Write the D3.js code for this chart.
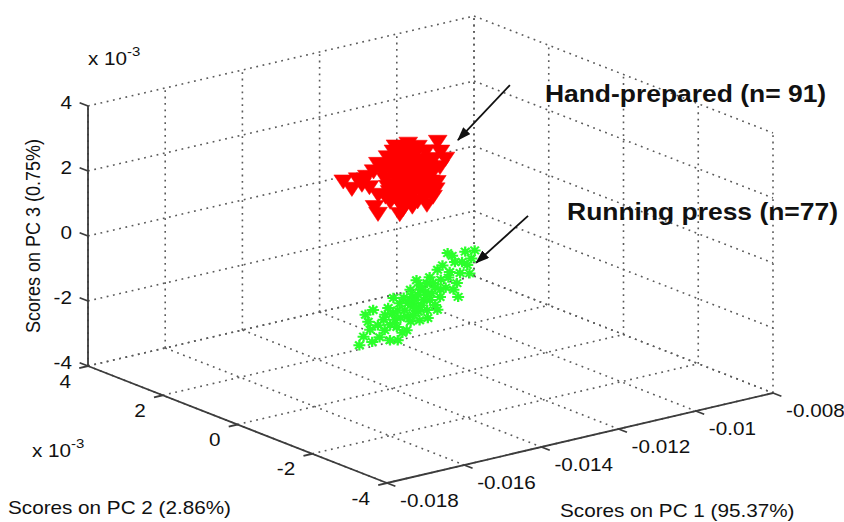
<!DOCTYPE html>
<html>
<head>
<meta charset="utf-8">
<script src="https://cdn.jsdelivr.net/npm/d3@7"></script>
<style>
  body { margin: 0; background: #fff; }
  svg { display: block; }
  text { font-family: "Liberation Sans", Arial, Helvetica, sans-serif; fill: #111; }
</style>
</head>
<body>
<div id="chart"></div>
<script>
// PCA scores, PC2 and PC3 in units of 1e-3 (as the axes show "x 10^-3")
var handPc1 = [-0.01497,-0.01523,-0.01468,-0.01497,-0.01399,-0.01446,-0.01416,-0.01474,-0.01436,-0.01378,
  -0.01354,-0.01399,-0.01361,-0.01393,-0.01285,-0.01319,-0.01274,-0.01435,-0.01366,-0.01287,
  -0.01367,-0.01399,-0.01351,-0.01375,-0.01264,-0.01291,-0.01242,-0.01331,-0.01413,-0.01352,
  -0.01349,-0.01386,-0.01343,-0.01380,-0.01277,-0.01363,-0.01367,-0.01383,-0.01327,-0.01269,
  -0.01264,-0.01303,-0.01304,-0.01380,-0.01321,-0.01410,-0.01328,-0.01357,-0.01374,-0.01267,
  -0.01354,-0.01352,-0.01348,-0.01450,-0.01238,-0.01324,-0.01385,-0.01453,-0.01465,-0.01450,
  -0.01315,-0.01342,-0.01356,-0.01432,-0.01251,-0.01285,-0.01318,-0.01399,-0.01395,-0.01378,
  -0.01318,-0.01314,-0.01374,-0.01398,-0.01282,-0.01384,-0.01328,-0.01352,-0.01366,-0.01300,
  -0.01362,-0.01334,-0.01335,-0.01411,-0.01251,-0.01420,-0.01307,-0.01391,-0.01379,-0.01313,-0.01245];
var handPc2 = [0.3,-0.2,0.1,-0.4,0.5,-0.1,0.2,-0.3,0,0.4, 0.3,-0.2,0.1,-0.4,0.5,-0.1,0.2,-0.3,0,0.4,
  0.3,-0.2,0.1,-0.4,0.5,-0.1,0.2,-0.3,0,0.4, 0.3,-0.2,0.1,-0.4,0.5,-0.1,0.2,-0.3,0,0.4,
  0.3,-0.2,0.1,-0.4,0.5,-0.1,0.2,-0.3,0,0.4, 0.3,-0.2,0.1,-0.4,0.5,-0.1,0.2,-0.3,0,0.4,
  0.3,-0.2,0.1,-0.4,0.5,-0.1,0.2,-0.3,0,0.4, 0.3,-0.2,0.1,-0.4,0.5,-0.1,0.2,-0.3,0,0.4,
  0.3,-0.2,0.1,-0.4,0.5,-0.1,0.2,-0.3,0,0.4,0.3];
var handPc3 = [2.56,2.63,2.47,2.70,2.51,3.14,1.97,1.98,1.53,2.25, 1.55,1.51,1.43,2.04,1.27,1.53,1.52,2.33,2.01,1.63,
  3.12,3.21,3.25,3.44,2.75,3.39,2.60,3.06,2.97,3.19, 2.61,2.77,2.83,2.99,2.27,2.51,2.33,2.40,2.00,1.67,
  2.22,2.23,2.26,2.59,1.99,2.79,2.96,3.10,3.26,2.34, 2.01,3.45,3.40,3.49,1.51,1.79,1.67,3.00,2.75,2.45,
  1.75,2.34,2.93,3.29,1.79,2.60,2.35,2.05,2.31,1.72, 1.29,2.94,2.61,3.04,2.49,3.03,2.44,2.72,2.32,1.82,
  1.72,2.93,3.18,3.69,2.10,2.36,2.17,2.30,2.51,2.93,2.78];

var pressPc1 = [-0.01275,-0.01181,-0.01233,-0.01195,-0.01243,-0.01260,-0.01204,-0.01228,-0.01225,-0.01309,
  -0.01251,-0.01297,-0.01336,-0.01338,-0.01279,-0.01285,-0.01209,-0.01409,-0.01295,-0.01309,
  -0.01417,-0.01331,-0.01367,-0.01439,-0.01383,-0.01397,-0.01437,-0.01461,-0.01425,-0.01405,
  -0.01381,-0.01253,-0.01375,-0.01227,-0.01222,-0.01311,-0.01312,-0.01396,-0.01303,-0.01392,
  -0.01438,-0.01422,-0.01523,-0.01284,-0.01215,-0.01228,-0.01294,-0.01370,-0.01321,-0.01288,
  -0.01342,-0.01323,-0.01424,-0.01400,-0.01334,-0.01446,-0.01442,-0.01298,-0.01192,-0.01307,
  -0.01365,-0.01367,-0.01341,-0.01322,-0.01235,-0.01368,-0.01398,-0.01414,-0.01420,-0.01244,
  -0.01205,-0.01279,-0.01326,-0.01330,-0.01339,-0.01337,-0.01385];
var pressPc2 = [-0.2,0.3,-0.4,0.1,0.4,-0.1,0.2,-0.3,0.5,0, -0.2,0.3,-0.4,0.1,0.4,-0.1,0.2,-0.3,0.5,0,
  -0.2,0.3,-0.4,0.1,0.4,-0.1,0.2,-0.3,0.5,0, -0.2,0.3,-0.4,0.1,0.4,-0.1,0.2,-0.3,0.5,0,
  -0.2,0.3,-0.4,0.1,0.4,-0.1,0.2,-0.3,0.5,0, -0.2,0.3,-0.4,0.1,0.4,-0.1,0.2,-0.3,0.5,0,
  -0.2,0.3,-0.4,0.1,0.4,-0.1,0.2,-0.3,0.5,0, -0.2,0.3,-0.4,0.1,0.4,-0.1,0.2];
var pressPc3 = [-0.09,-0.53,-0.28,-0.81,-0.96,-0.76,-1.08,-0.80,-1.36,-1.01, -1.08,-1.38,-1.07,-1.40,-1.78,-1.46,-1.80,-1.22,-1.99,-1.84,
  -1.55,-2.12,-1.81,-1.52,-2.11,-2.07,-2.18,-2.12,-2.56,-2.50, -2.17,-2.12,-0.56,-0.63,-1.57,-1.48,-1.97,-1.47,-2.43,-1.91,
  -2.01,-2.64,-2.15,-1.12,-1.28,-0.54,-1.41,-1.23,-1.65,-1.74, -1.51,-1.31,-1.35,-1.57,-2.65,-1.88,-1.92,-0.36,-1.76,-2.09,
  -1.75,-1.44,-0.56,-1.38,-1.59,-1.42,-1.83,-2.34,-1.90,-0.35, -0.20,-1.59,-0.91,-1.76,-2.17,-0.95,-2.17];

var pc1Ticks = [-0.018, -0.016, -0.014, -0.012, -0.01, -0.008];
var pc2Ticks = [-4, -2, 0, 2, 4];
var pc3Ticks = [-4, -2, 0, 2, 4];

var width = 844, height = 522;
var SX = 1.15;           // the picture is stretched sideways
var O = [387, 483];      // screen point of the corner (pc1 min, pc2 min, pc3 min)
var U = [386, -90], V = [-299, -117], W = [0, -260];   // screen vectors of the three axes

var xs = d3.scaleLinear().domain(d3.extent(pc1Ticks)).range([0, 1]);
var ys = d3.scaleLinear().domain(d3.extent(pc2Ticks)).range([0, 1]);
var zs = d3.scaleLinear().domain(d3.extent(pc3Ticks)).range([0, 1]);
var x0 = xs.domain()[0], x1 = xs.domain()[1];
var y0 = ys.domain()[0], y1 = ys.domain()[1];
var z0 = zs.domain()[0], z1 = zs.domain()[1];

function proj(a, b, c) {
  var u = xs(a), v = ys(b), w = zs(c);
  return [O[0] + U[0]*u + V[0]*v + W[0]*w, O[1] + U[1]*u + V[1]*v + W[1]*w];
}
function seg(p, q) { return "M" + p[0] + "," + p[1] + "L" + q[0] + "," + q[1]; }
function unit(p, q) { var dx = q[0]-p[0], dy = q[1]-p[1], l = Math.sqrt(dx*dx+dy*dy); return [dx/l, dy/l]; }

var fmt = d3.formatLocale({decimal: ".", thousands: ",", grouping: [3], currency: ["", ""], minus: "-"}).format("~g");

var svg = d3.select("#chart").append("svg")
    .attr("width", width)
    .attr("height", height);

function txt(x, y, s, size, anchor, weight) {
  return svg.append("text")
    .attr("transform", "translate(" + x + "," + y + ") scale(" + SX + ",1)")
    .attr("font-size", size)
    .attr("text-anchor", anchor || "start")
    .attr("font-weight", weight || "normal")
    .text(s);
}

///////////////////////////////////////////////////////////////////////////
//////////////////////////// Dotted grid walls ////////////////////////////
///////////////////////////////////////////////////////////////////////////

var lines = [];
pc1Ticks.forEach(function(t) {
  lines.push([proj(t, y1, z0), proj(t, y1, z1)]);   //back wall
  lines.push([proj(t, y1, z0), proj(t, y0, z0)]);   //floor
});
pc2Ticks.forEach(function(t) {
  lines.push([proj(x1, t, z0), proj(x1, t, z1)]);   //right wall
  lines.push([proj(x0, t, z0), proj(x1, t, z0)]);   //floor
});
pc3Ticks.forEach(function(t) {
  lines.push([proj(x0, y1, t), proj(x1, y1, t)]);   //back wall
  lines.push([proj(x1, y1, t), proj(x1, y0, t)]);   //right wall
});

svg.append("g")
    .attr("fill", "none")
    .attr("stroke", "#5a5a5a")
    .attr("stroke-width", 1.6)
    .attr("stroke-dasharray", "1.8,4.6")
  .selectAll("path")
    .data(lines)
    .enter().append("path")
    .attr("d", function(d) { return seg(d[0], d[1]); });

///////////////////////////////////////////////////////////////////////////
//////////////////////////// Axes, ticks, labels //////////////////////////
///////////////////////////////////////////////////////////////////////////

var axes = svg.append("g").attr("stroke", "#3c3c3c").attr("stroke-width", 1.8).attr("fill", "none");
axes.append("path").attr("d", seg(proj(x0, y1, z0), proj(x0, y1, z1)));
axes.append("path").attr("d", seg(proj(x0, y1, z0), proj(x0, y0, z0)));
axes.append("path").attr("d", seg(proj(x0, y0, z0), proj(x1, y0, z0)));

var tickLen = 9;
var d1 = unit(proj(x0, y1, z0), proj(x0, y0, z0));   //pc1 ticks point to the front
var d2 = unit(proj(x1, y0, z0), proj(x0, y0, z0));   //pc2 ticks point left
var d3v = unit(proj(x0, y0, z0), proj(x0, y1, z0));  //pc3 ticks point back

pc1Ticks.forEach(function(t) {
  var p = proj(t, y0, z0);
  axes.append("path").attr("d", seg(p, [p[0] + d1[0]*tickLen, p[1] + d1[1]*tickLen]));
  txt(p[0] + 13, p[1] + 23.5, fmt(t), 18, "start");
});
pc2Ticks.forEach(function(t) {
  var p = proj(x0, t, z0);
  axes.append("path").attr("d", seg(p, [p[0] + d2[0]*tickLen, p[1] + d2[1]*tickLen]));
  txt(p[0] - 17, p[1] + 21.5, fmt(t), 18, "end");
});
pc3Ticks.forEach(function(t) {
  var p = proj(x0, y1, t);
  axes.append("path").attr("d", seg(p, [p[0] + d3v[0]*tickLen, p[1] + d3v[1]*tickLen]));
  txt(p[0] - 16, p[1] + 2.5, fmt(t), 18, "end");
});

//exponent notes
var e1 = txt(88, 65, "x 10", 18, "start");
e1.append("tspan").attr("font-size", 13).attr("dy", -9).text("-3");
var e2 = txt(32, 457, "x 10", 18, "start");
e2.append("tspan").attr("font-size", 13).attr("dy", -9).text("-3");

//axis titles
txt(560, 517, "Scores on PC 1 (95.37%)", 18, "start");
txt(8, 514, "Scores on PC 2 (2.86%)", 18, "start");
svg.append("text")
    .attr("transform", "translate(40,236) scale(" + SX + ",1) rotate(-90)")
    .attr("font-size", 18)
    .attr("text-anchor", "middle")
    .text("Scores on PC 3 (0.75%)");

///////////////////////////////////////////////////////////////////////////
//////////////////////////////// Score points /////////////////////////////
///////////////////////////////////////////////////////////////////////////

var hand = handPc1.map(function(v, i) { return proj(v, handPc2[i], handPc3[i]); });
var press = pressPc1.map(function(v, i) { return proj(v, pressPc2[i], pressPc3[i]); });

svg.append("g")
  .selectAll("path")
    .data(hand)
    .enter().append("path")
    .attr("d", d3.symbol().type(d3.symbolTriangle).size(115))
    .attr("transform", function(d) { return "translate(" + d[0] + "," + d[1] + ") scale(" + SX + ",1) rotate(180)"; })
    .attr("fill", "#ff0000")
    .attr("stroke", "#ff0000")
    .attr("stroke-width", 0.5);

function star(r) {
  var p = d3.path(), q = r * 0.72;
  p.moveTo(-r, 0); p.lineTo(r, 0);
  p.moveTo(0, -r); p.lineTo(0, r);
  p.moveTo(-q, -q); p.lineTo(q, q);
  p.moveTo(-q, q); p.lineTo(q, -q);
  return p.toString();
}

svg.append("g")
  .selectAll("path")
    .data(press)
    .enter().append("path")
    .attr("d", star(5.2))
    .attr("transform", function(d) { return "translate(" + d[0] + "," + d[1] + ") scale(" + SX + ",1)"; })
    .attr("fill", "none")
    .attr("stroke", "#2bff2b")
    .attr("stroke-width", 2);

///////////////////////////////////////////////////////////////////////////
///////////////////////////////// Annotations /////////////////////////////
///////////////////////////////////////////////////////////////////////////

var notes = [
  {text: "Hand-prepared (n= 91)", tip: [-0.01229, 0, 3.17], tail: [52, -55], label: [87, -38]},
  {text: "Running press (n=77)", tip: [-0.01182, 0, -0.74], tail: [52, -47], label: [91, -43]}
];

svg.append("defs").append("marker")
    .attr("id", "head")
    .attr("markerUnits", "userSpaceOnUse")
    .attr("markerWidth", 14).attr("markerHeight", 10)
    .attr("refX", 13).attr("refY", 5)
    .attr("orient", "auto")
  .append("path")
    .attr("d", "M0,0L14,5L0,10z")
    .attr("fill", "#111");

notes.forEach(function(n) {
  var p = proj(n.tip[0], n.tip[1], n.tip[2]);
  svg.append("path")
    .attr("d", seg([p[0] + n.tail[0], p[1] + n.tail[1]], p))
    .attr("stroke", "#111")
    .attr("stroke-width", 1.8)
    .attr("marker-end", "url(#head)");
  txt(p[0] + n.label[0], p[1] + n.label[1], n.text, 23, "start", "bold");
});
</script>
</body>
</html>
